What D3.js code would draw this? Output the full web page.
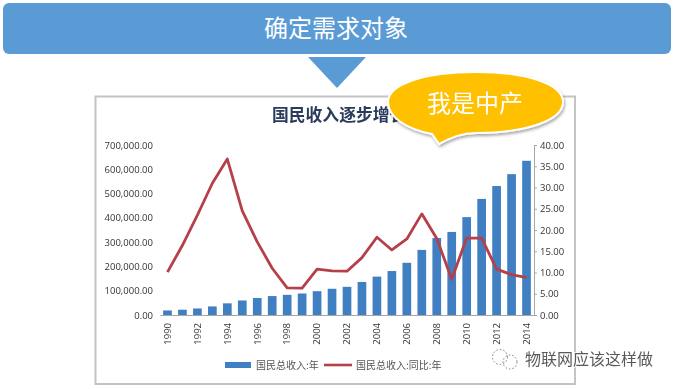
<!DOCTYPE html>
<html>
<head>
<meta charset="utf-8">
<script src="https://cdn.jsdelivr.net/npm/d3@7"></script>
<style>
  html, body { margin: 0; padding: 0; background: #fff; }
  svg { display: block; }
  text { font-family: "Noto Sans CJK SC", "Noto Sans", sans-serif; }
  .num { font-family: "Open Sans", "Noto Sans", sans-serif; }
</style>
</head>
<body>
<svg id="chart" width="674" height="389"></svg>
<script>
const years = d3.range(1990, 2015);
const tickYears = years.filter((y) => y % 2 === 0);
const income = [18700, 21800, 26900, 35300, 48100, 59800, 70100, 78000, 83000, 88500,
  98000, 108000, 116000, 136000, 158000, 181000, 215000, 268000, 317000, 342000,
  403000, 478000, 531000, 580000, 635000];
const growth = [10.1, 16.4, 23.5, 31.0, 36.7, 24.5, 17.2, 11.0, 6.4, 6.3,
  10.8, 10.4, 10.3, 13.5, 18.3, 15.3, 17.9, 23.8, 18.0, 8.4,
  18.1, 18.1, 10.8, 9.5, 8.8];
const leftTicks = [0, 100000, 200000, 300000, 400000, 500000, 600000, 700000];
const rightTicks = [0, 5, 10, 15, 20, 25, 30, 35, 40];
const headerText = "确定需求对象";
const titleText = "国民收入逐步增长";
const bubbleText = "我是中产";
const legendBar = "国民总收入:年";
const legendLine = "国民总收入:同比:年";
const watermark = "物联网应该这样做";

const svg = d3.select("#chart");
const blue = "#5b9bd5";
const plot = { left: 160, right: 534, top: 145, bottom: 315 };

const defs = svg.append("defs");
defs.append("filter").attr("id", "soft")
  .append("feGaussianBlur").attr("stdDeviation", 0.5);
defs.append("filter").attr("id", "shadow")
  .attr("x", "-10%").attr("y", "-10%").attr("width", "120%").attr("height", "130%")
  .append("feDropShadow")
  .attr("dx", 1).attr("dy", 2).attr("stdDeviation", 1.5)
  .attr("flood-color", "#000").attr("flood-opacity", 0.35);

// Header banner and arrow
svg.append("rect")
  .attr("x", 3).attr("y", 3).attr("width", 668).attr("height", 51)
  .attr("rx", 6).attr("fill", blue);
svg.append("text")
  .attr("x", 336).attr("y", 37)
  .attr("text-anchor", "middle")
  .attr("font-size", 24)
  .attr("fill", "#fff")
  .text(headerText);
svg.append("path")
  .attr("d", "M308,57 L366,57 L337,88 Z")
  .attr("fill", blue);

// Screenshot frame
svg.append("rect")
  .attr("x", 95.5).attr("y", 96.5).attr("width", 479.5).attr("height", 287.5)
  .attr("fill", "#fff")
  .attr("stroke", "#c4c4c4").attr("stroke-width", 2);

const g = svg.append("g").attr("filter", "url(#soft)");

g.append("text")
  .attr("x", 272).attr("y", 121)
  .attr("font-size", 16.8)
  .attr("font-weight", 700)
  .attr("fill", "#2a3b5c")
  .text(titleText);

// Scales
const x = d3.scaleBand().domain(years).range([plot.left, plot.right]).paddingInner(0.42).paddingOuter(0.21);
const yLeft = d3.scaleLinear().domain([0, 700000]).range([plot.bottom, plot.top]);
const yRight = d3.scaleLinear().domain([0, 40]).range([plot.bottom, plot.top]);
const cx = (d) => x(d) + x.bandwidth() / 2;

// Bars
g.append("g").selectAll("rect")
  .data(income)
  .join("rect")
  .attr("x", (d, i) => x(years[i]))
  .attr("y", (d) => yLeft(d))
  .attr("width", x.bandwidth())
  .attr("height", (d) => plot.bottom - yLeft(d))
  .attr("fill", "#3f7fc1");

// Growth line
const line = d3.line()
  .x((d, i) => cx(years[i]))
  .y((d) => yRight(d));
g.append("path")
  .datum(growth)
  .attr("d", line)
  .attr("fill", "none")
  .attr("stroke", "#b5404a")
  .attr("stroke-width", 2.8)
  .attr("stroke-linejoin", "round");

// Axes
const axisLeft = d3.axisLeft(yLeft).tickValues(leftTicks).tickSize(0).tickPadding(7)
  .tickFormat(d3.format(",.2f"));
const axisRight = d3.axisRight(yRight).tickValues(rightTicks).tickSize(3).tickPadding(3)
  .tickFormat(d3.format(".2f"));
const axisBottom = d3.axisBottom(x).tickValues(tickYears).tickSize(0).tickFormat(d3.format("d"));

const gl = g.append("g").attr("transform", `translate(${plot.left},0)`).call(axisLeft);
gl.select(".domain").remove();
const gr = g.append("g").attr("transform", `translate(${plot.right},0)`).call(axisRight);
gr.selectAll("path,line").attr("stroke", "#a6a6a6");
const gb = g.append("g").attr("transform", `translate(0,${plot.bottom})`).call(axisBottom);
gb.select(".domain").attr("stroke", "#a6a6a6");
gb.selectAll("text")
  .attr("transform", "rotate(-90)")
  .attr("x", -8).attr("y", 0).attr("dy", "0.35em")
  .attr("text-anchor", "end");
g.selectAll(".tick text")
  .attr("class", "num")
  .attr("font-size", 9.5)
  .attr("fill", "#333");

// Legend
g.append("rect")
  .attr("x", 225).attr("y", 362).attr("width", 26).attr("height", 6)
  .attr("fill", "#3f7fc1");
g.append("text")
  .attr("x", 256).attr("y", 369)
  .attr("font-size", 10).attr("fill", "#555")
  .text(legendBar);
g.append("line")
  .attr("x1", 324).attr("x2", 352).attr("y1", 365).attr("y2", 365)
  .attr("stroke", "#b5404a").attr("stroke-width", 2.6);
g.append("text")
  .attr("x", 356).attr("y", 369)
  .attr("font-size", 10).attr("fill", "#555")
  .text(legendLine);

// Speech bubble
svg.append("path")
  .attr("d", "M388,102 C388,84 425,72 476,72 C527,72 563,84 563,102 C563,120 527,133 476,133 C462,133 452,137 439,144 L432,134 C406,129 388,117 388,102 Z")
  .attr("fill", "#ffc000")
  .attr("stroke", "#fff").attr("stroke-width", 2)
  .attr("filter", "url(#shadow)");
svg.append("text")
  .attr("x", 475).attr("y", 112)
  .attr("text-anchor", "middle")
  .attr("font-size", 24)
  .attr("fill", "#fff")
  .text(bubbleText);

// Watermark
const mark = svg.append("g").attr("fill", "none").attr("stroke", "#777").attr("stroke-dasharray", "1.5 2");
mark.append("circle").attr("cx", 500).attr("cy", 357).attr("r", 7.5);
mark.append("circle").attr("cx", 510).attr("cy", 362).attr("r", 7);
svg.append("text")
  .attr("x", 525).attr("y", 365)
  .attr("font-size", 16)
  .attr("fill", "#5a5a5a")
  .attr("stroke", "#fff").attr("stroke-width", 1.5)
  .attr("paint-order", "stroke")
  .text(watermark);
</script>
</body>
</html>
